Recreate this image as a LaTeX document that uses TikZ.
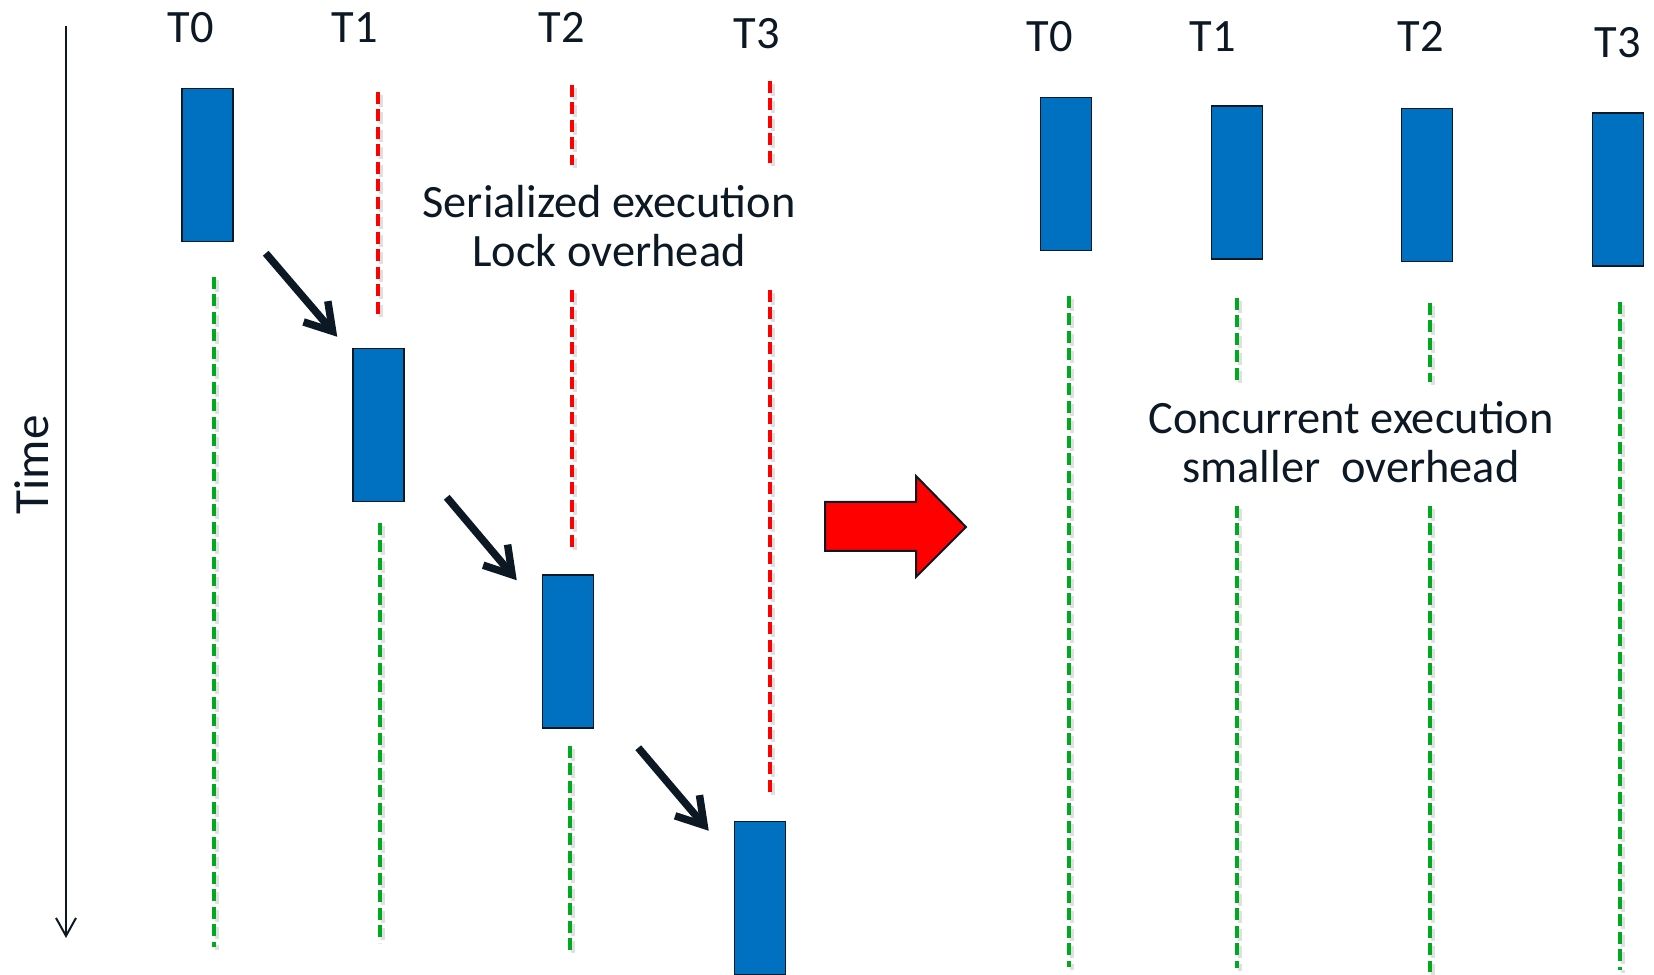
\documentclass[tikz,border=0pt]{standalone}
\usepackage{fontspec}
\setmainfont{Carlito}
\usetikzlibrary{arrows.meta}
\definecolor{taskblue}{RGB}{0,112,192}
\definecolor{waitred}{RGB}{255,0,0}
\definecolor{rungreen}{RGB}{0,170,30}
\definecolor{ink}{RGB}{12,24,36}
% dashed thread line with its grey shadow: \tline[style](x:y1:y2)
\def\tline[#1](#2:#3:#4){\draw[#1, draw=black!12, shift={(3,3)}] (#2,#3) -- (#2,#4); \draw[#1] (#2,#3) -- (#2,#4);}
\tikzset{
	task/.style={draw=ink, line width=0.15mm, fill=taskblue, minimum width=5.1mm, minimum height=15.3mm, inner sep=0pt},
	lbl/.style={text=ink, font=\fontsize{13.2}{14.2}\selectfont, inner sep=0pt},
	lockline/.style={draw=waitred, line width=0.45mm, dash pattern=on 1.2mm off 0.55mm},
	freeline/.style={draw=rungreen, line width=0.45mm, dash pattern=on 1.2mm off 0.55mm},
	hop/.style={draw=ink, line width=0.75mm, line join=round, -{Straight Barb[length=2.6mm,width=3.2mm]}},
}

\begin{document}
\begin{tikzpicture}[x=0.1mm, y=-0.1mm]
		%%%%% START %%%%%
		\useasboundingbox (0,0) rectangle (1654,975);
		
		% time axis
		\coordinate (tstart) at (66,26);
		\coordinate (tend) at (66,938);
		\draw[draw=ink, line width=0.2mm, -{Straight Barb[length=1.8mm,width=2mm]}] (tstart) -- (tend);
		\node[lbl, rotate=90, font=\fontsize{14}{15}\selectfont] (time) at (32,465) {Time};
		
		% serialized side
		\foreach \i/\x/\y in {0/191/43, 1/355/43, 2/562/43, 3/757/49}
			\node[lbl, anchor=base] (lt\i) at (\x,\y) {T\i};
		
		\tline[freeline](214:277:947);
		\tline[freeline](380:523:943);
		\tline[freeline](570:746:953);
		\tline[lockline](378:92:315);
		\tline[lockline](572:85:165);
		\tline[lockline](572:290:552);
		\tline[lockline](770:81:165);
		\tline[lockline](770:290:792);
		
		\foreach \i/\x/\y in {0/207.5/165, 1/378.5/425, 2/568/651.5, 3/760/898}
			\node[task] (l\i) at (\x,\y) {};
		
		\draw[hop] ([shift={(32,11)}]l0.south east) -- ([shift={(-15,-11)}]l1.north west);
		\draw[hop] ([shift={(42,-5)}]l1.south east) -- ([shift={(-25,6)}]l2.north west);
		\draw[hop] ([shift={(44,19)}]l2.south east) -- ([shift={(-25,10)}]l3.north west);
		
		\node[lbl, align=center, anchor=base] (serial) at (609,267) {Serialized execution\\Lock overhead};
		
		% big arrow
		\draw[fill=waitred, draw=ink, line width=0.2mm] (825,502) -- (916,502) -- (916,476) -- (966,527) -- (916,577) -- (916,551) -- (825,551) -- cycle;
		
		% concurrent side
		\foreach \i/\x/\y in {0/1050/52, 1/1213/52, 2/1421/52, 3/1618/58}
			\node[lbl, anchor=base] (rt\i) at (\x,\y) {T\i};
		
		\tline[freeline](1069:296:967);
		\tline[freeline](1237:298:382);
		\tline[freeline](1237:506:968);
		\tline[freeline](1430:303:382);
		\tline[freeline](1430:506:972);
		\tline[freeline](1620:302:970);
		
		\foreach \i/\x/\y in {0/1066/174, 1/1237/182.5, 2/1427/185, 3/1618/189.5}
			\node[task] (r\i) at (\x,\y) {};
		
		\node[lbl, align=center, anchor=base] (concur) at (1351,483) {Concurrent execution\\smaller\ \ overhead};
		%%%%% END %%%%%
\end{tikzpicture}
\end{document}
